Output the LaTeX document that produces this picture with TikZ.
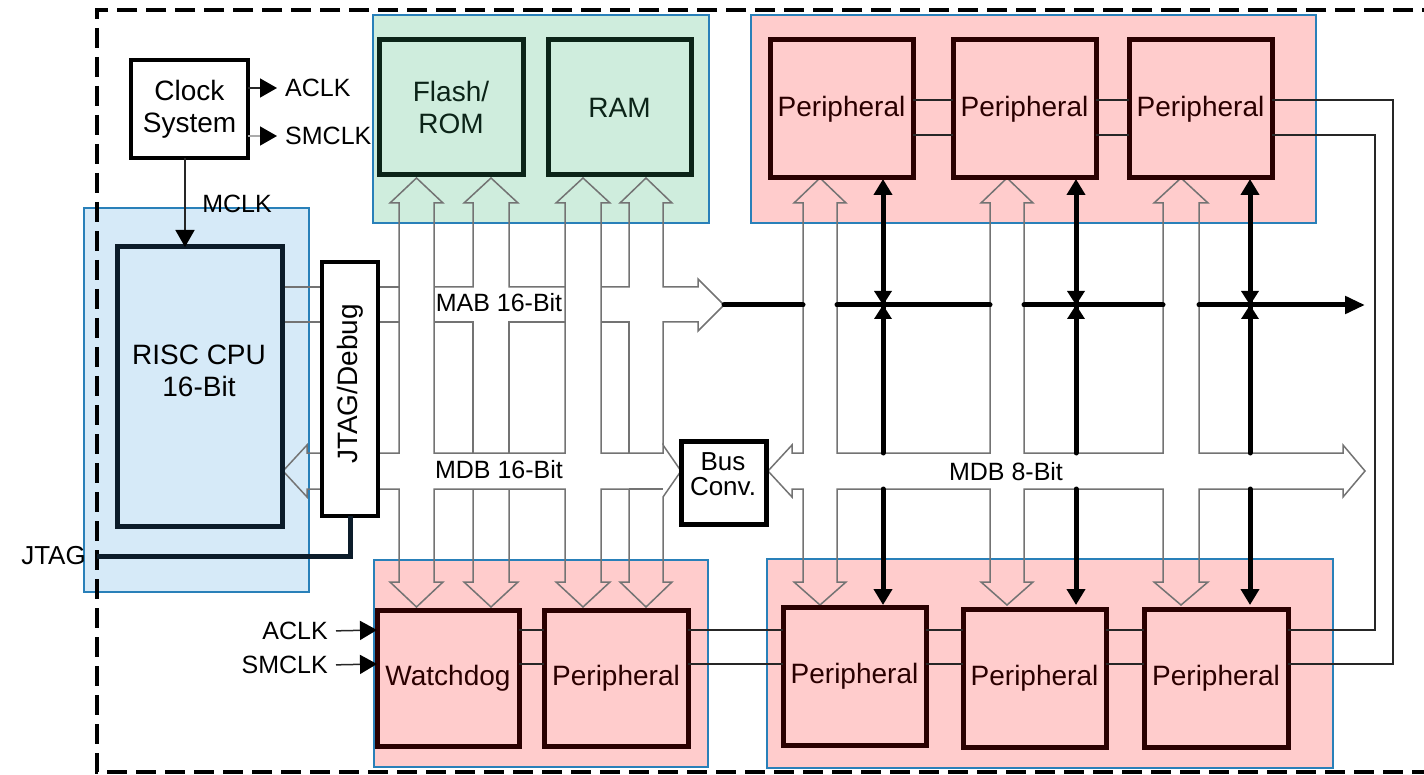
\documentclass[tikz,border=0pt]{standalone}
\usepackage{fontspec}
\setmainfont{Liberation Sans}
\usetikzlibrary{arrows.meta}
\definecolor{bgborder}{RGB}{41,128,185}
\definecolor{cpubg}{RGB}{214,234,248}
\definecolor{membg}{RGB}{207,237,221}
\definecolor{perbg}{RGB}{255,204,204}
\definecolor{busgray}{RGB}{115,115,115}
\definecolor{perline}{RGB}{42,0,0}
\definecolor{memline}{RGB}{12,36,24}
\definecolor{cpuline}{RGB}{12,28,42}
\newcommand\bfnt{\fontsize{28}{32}\selectfont}
\newcommand\lfnt{\fontsize{25}{28}\selectfont}
\begin{document}
\begin{tikzpicture}[x=1pt,y=-1pt,
  bgbox/.style={draw=bgborder, line width=2.5pt, inner sep=0pt, outer sep=0pt},
  unit/.style={line width=5pt, inner sep=0pt, outer sep=0pt, font=\bfnt, align=center},
  per/.style={unit, draw=perline, fill=perbg, text=perline},
  mem/.style={unit, draw=memline, fill=membg, text=memline},
  plain/.style={unit, draw=black, fill=white},
  bus/.style={draw=busgray, line width=1.5pt, line join=miter},
  wire/.style={draw=black!85, line width=1.5pt},
  fat/.style={draw=black, line width=5pt, line cap=round},
  lbl/.style={font=\lfnt, inner sep=1pt},
  headend/.style={-{Triangle[length=17pt,width=19pt,color=black]}},
  fathead/.style={-{Triangle[length=16pt,width=18pt]}}
]
\useasboundingbox (0,0) rectangle (1424,775);
\clip (0,0) rectangle (1424,775);

% ---------- backgrounds ----------
\node[bgbox, fill=cpubg, minimum width=225pt, minimum height=384pt] (cpubg) at (196.5,400) {};
\node[bgbox, fill=membg, minimum width=336pt, minimum height=208pt] (membgbox) at (541,119) {};
\node[bgbox, fill=perbg, minimum width=565pt, minimum height=208pt] (topbg) at (1033.5,119) {};
\node[bgbox, fill=perbg, minimum width=334pt, minimum height=207pt] (blbg) at (541,663.5) {};
\node[bgbox, fill=perbg, minimum width=566pt, minimum height=209pt] (brbg) at (1050,663.5) {};

% ---------- outer dashed border ----------
\draw[black, line width=3.5pt, dash pattern=on 20pt off 9pt] (1500,10) -- (97,10) -- (97,772) -- (1500,772);

% ---------- 16-bit buses ----------
\draw[bus] (282,287) -- (322,287);
\draw[bus] (282,322) -- (322,322);
\draw[bus] (378,287) -- (399,287);
\draw[bus] (378,322) -- (399,322);
\draw[bus] (378,453) -- (399,453) -- (399,203) -- (390,203) -- (416.5,178) -- (443,203) -- (434,203)
  -- (434,453) -- (565,453) -- (565,203) -- (556,203) -- (583,178) -- (610,203) -- (601,203)
  -- (601,453) -- (663,453) -- (663,445) -- (681,471) -- (663,497) -- (663,582) -- (672,582)
  -- (646,607) -- (620,582) -- (629,582) -- (629,489) -- (601,489) -- (601,582) -- (610,582)
  -- (583,607) -- (556,582) -- (565,582) -- (565,489) -- (434,489) -- (434,582) -- (443,582)
  -- (416.5,607) -- (390,582) -- (399,582) -- (399,489) -- (378,489);
\draw[bus] (629,489) -- (663,489);
\draw[bus] (434,287) -- (473,287) -- (473,203) -- (464,203) -- (491,178) -- (518,203) -- (509,203) -- (509,287) -- (565,287);
\draw[bus] (601,287) -- (629,287) -- (629,203) -- (620,203) -- (646,178) -- (672,203) -- (663,203) -- (663,287)
  -- (698,287) -- (698,279) -- (724,305) -- (698,331) -- (698,322) -- (663,322) -- (663,445);
\draw[bus] (434,322) -- (473,322) -- (473,453);
\draw[bus] (509,453) -- (509,322) -- (565,322);
\draw[bus] (601,322) -- (629,322) -- (629,453);
\draw[bus] (473,489) -- (473,582) -- (464,582) -- (491,607) -- (518,582) -- (509,582) -- (509,489);
\draw[bus] (322,453) -- (307,453) -- (307,445) -- (283,471) -- (307,497) -- (307,489) -- (322,489);

% ---------- 8-bit data bus ----------
\draw[bus] (803,489) -- (792,489) -- (792,497) -- (768,471) -- (792,445) -- (792,453) -- (803,453)
  -- (803,203) -- (794,203) -- (820,178) -- (846,203) -- (837,203) -- (837,453)
  -- (990,453) -- (990,203) -- (981,203) -- (1007,178) -- (1033,203) -- (1024,203) -- (1024,453)
  -- (1163,453) -- (1163,203) -- (1154,203) -- (1181,178) -- (1208,203) -- (1199,203) -- (1199,453)
  -- (1343,453) -- (1343,445) -- (1365,471) -- (1343,497) -- (1343,489)
  -- (1199,489) -- (1199,582) -- (1208,582) -- (1181,605) -- (1154,582) -- (1163,582) -- (1163,489)
  -- (1024,489) -- (1024,582) -- (1033,582) -- (1007,605) -- (981,582) -- (990,582) -- (990,489)
  -- (837,489) -- (837,582) -- (846,582) -- (820,605) -- (794,582) -- (803,582) -- cycle;

% ---------- peripheral address bus (thick) ----------
\draw[fat] (724,305) -- (803,305);
\draw[fat] (837,305) -- (990,305);
\draw[fat] (1024,305) -- (1163,305);
\draw[fat, -{Triangle[length=20pt,width=17pt]}] (1199,305) -- (1365,305);
\foreach \x in {883,1076,1250} {
  \draw[fat, fathead] (\x,453) -- (\x,179);
  \draw[fat, fathead] (\x,489) -- (\x,605);
  \fill (\x-9,291) -- (\x+9,291) -- (\x,305) -- cycle;
  \fill (\x-9,319) -- (\x+9,319) -- (\x,305) -- cycle;
}

% ---------- blocks ----------
\node[plain, line width=4.5pt, minimum width=117pt, minimum height=98pt] (clock) at (189.5,109) {Clock\\System};
\node[unit, draw=cpuline, fill=cpubg, minimum width=165pt, minimum height=279pt] (cpu) at (199.5,386.5) {};
\node[font=\bfnt, align=center, inner sep=0pt] (cputxt) at (199,371) {RISC CPU\\16-Bit};
\node[plain, line width=4pt, minimum width=56pt, minimum height=254pt] (jtag) at (350,389) {};
\node[font=\bfnt, rotate=90, inner sep=0pt] (jtagtxt) at (350,384) {JTAG/Debug};
\node[mem, minimum width=144pt, minimum height=135pt] (flash) at (451,107.5) {Flash/\\ROM};
\node[mem, minimum width=143pt, minimum height=135pt] (ram) at (619.5,107.5) {RAM};
\node[per, minimum width=143pt, minimum height=138pt] (tp1) at (841.5,109) {Peripheral};
\node[per, minimum width=143pt, minimum height=138pt] (tp2) at (1024.5,109) {Peripheral};
\node[per, minimum width=143pt, minimum height=138pt] (tp3) at (1200.5,109) {Peripheral};
\node[per, minimum width=142pt, minimum height=136pt] (wd) at (448,678) {Watchdog};
\node[per, minimum width=144pt, minimum height=136pt] (bp0) at (616,678) {Peripheral};
\node[per, minimum width=143pt, minimum height=138pt] (bp1) at (854.5,676) {Peripheral};
\node[per, minimum width=143pt, minimum height=138pt] (bp2) at (1034.5,678) {Peripheral};
\node[per, minimum width=144pt, minimum height=138pt] (bp3) at (1216,678) {Peripheral};
\node[plain, minimum width=85pt, minimum height=83pt] (busconv) at (723.5,482.5) {};
\node[font=\fontsize{26}{25}\selectfont, align=center, inner sep=0pt] (busconvtxt) at (723,474) {Bus\\Conv.};

% ---------- bus labels ----------
\node[lbl] (mablbl) at (499,303) {MAB 16-Bit};
\node[lbl] (mdblbl) at (499,470) {MDB 16-Bit};
\node[lbl] (mdb8lbl) at (1006,472) {MDB 8-Bit};

% ---------- clock signals ----------
\coordinate (yAck) at (0,88);
\coordinate (ySm) at (0,136);
\node[lbl, anchor=west] (aclk) at (284,88) {ACLK};
\node[lbl, anchor=west] (smclk) at (284,136) {SMCLK};
\draw[wire, headend] (clock.east |- yAck) -- (aclk.west) [shorten >=7pt];
\draw[draw=busgray!60, line width=1.5pt, headend] (clock.east |- ySm) -- (smclk.west) [shorten >=7pt];
\coordinate (mclkx) at (185,0);
\draw[wire, headend] (clock.south -| mclkx) -- (cpu.north -| mclkx);
\node[lbl] (mclk) at (237,204) {MCLK};

% ---------- JTAG ----------
\node[lbl, anchor=east, font=\fontsize{26}{28}\selectfont] (jtaglbl) at (87,556) {JTAG};
\coordinate (jtagpin) at (97,556);
\draw[draw=cpuline, line width=5pt] (jtagpin) -| (jtag.south);

% ---------- peripheral chain ----------
\coordinate (yA) at (0,100);
\coordinate (yB) at (0,135);
\coordinate (yC) at (0,630);
\coordinate (yD) at (0,664);
\coordinate (xin) at (1375,0);
\coordinate (xout) at (1393,0);
\foreach \a/\b in {tp1/tp2, tp2/tp3} {
  \draw[wire] (\a.east |- yA) -- (\b.west |- yA);
  \draw[wire] (\a.east |- yB) -- (\b.west |- yB);
}
\foreach \a/\b in {wd/bp0, bp0/bp1, bp1/bp2, bp2/bp3} {
  \draw[wire] (\a.east |- yC) -- (\b.west |- yC);
  \draw[wire] (\a.east |- yD) -- (\b.west |- yD);
}
\draw[wire] (tp3.east |- yA) -- (xout |- yA) -- (xout |- yD) -- (bp3.east |- yD);
\draw[wire] (tp3.east |- yB) -- (xin |- yB) -- (xin |- yC) -- (bp3.east |- yC);

% ---------- watchdog clocks ----------
\node[lbl, anchor=east] (aclk2) at (329,631) {ACLK};
\node[lbl, anchor=east] (smclk2) at (329,665) {SMCLK};
\draw[wire, headend] (aclk2.east) [shorten <=7pt] -- (wd.west |- yC);
\draw[wire, headend] (smclk2.east) [shorten <=7pt] -- (wd.west |- yD);
\end{tikzpicture}
\end{document}
